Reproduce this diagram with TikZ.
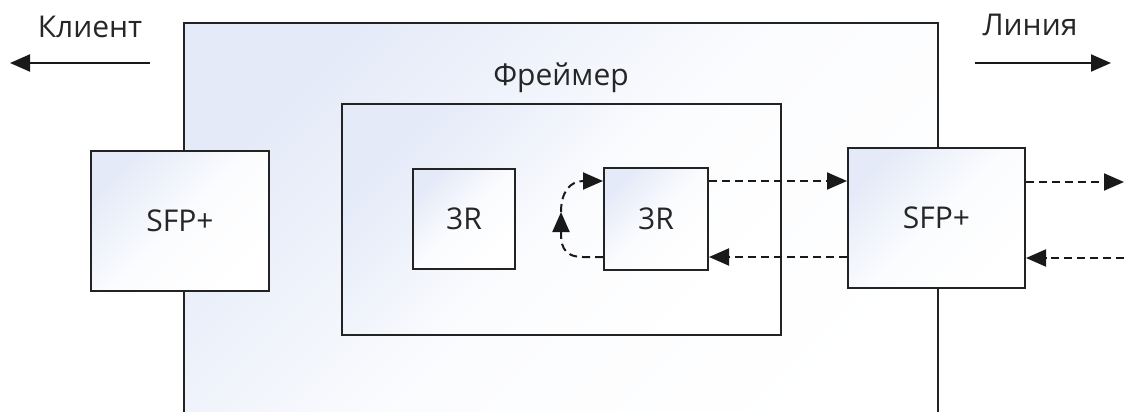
\documentclass[tikz,border=0pt]{standalone}
\usepackage{fontspec}
\setmainfont{Open Sans}
\usetikzlibrary{arrows.meta}
\definecolor{boxtint}{RGB}{228,234,248}
\definecolor{edge}{RGB}{35,35,35}
\tikzset{
  blk/.style={draw=edge, line width=2pt, shade, top color=boxtint, bottom color=white,
    middle color=white!85!boxtint, shading angle=45, inner sep=0pt, anchor=north west},
  lbl/.style={font=\fontsize{30}{34}\selectfont, text=black!85},
  tip/.style={-{Triangle[length=20pt,width=17pt]}},
  dflow/.style={tip, line width=2pt, dash pattern=on 8pt off 5pt, draw=black!90},
  sflow/.style={tip, line width=2pt, draw=black!90}
}
\begin{document}
\begin{tikzpicture}[x=1pt, y=-1pt]
\useasboundingbox (0,0) rectangle (1124,412);

% enclosing board, its lower edge runs past the frame
\node[blk, minimum width=754pt, minimum height=440pt] (board) at (183,22) {};

% framer block
\node[blk, minimum width=439pt, minimum height=231pt] (framer) at (341,103) {};
\node[lbl] (framerlbl) at (561,78) {Фреймер};

% transceivers
\node[blk, minimum width=178pt, minimum height=140pt] (sfpL) at (90,150) {};
\node[lbl] at (sfpL.center) {SFP+};
\node[blk, minimum width=177pt, minimum height=140pt] (sfpR) at (847,147) {};
\node[lbl] at (sfpR.center) {SFP+};

% regenerators
\node[blk, minimum width=102pt, minimum height=100pt] (ra) at (412,168) {};
\node[lbl] at (ra.center) {3R};
\node[blk, minimum width=104pt, minimum height=102pt] (rb) at (603,167) {};
\node[lbl] at (rb.center) {3R};

% direction captions
\node[lbl] (client) at (90,27) {Клиент};
\node[lbl] (line) at (1030,25) {Линия};
\coordinate (cA) at (150,63);
\coordinate (cB) at (10,63);
\coordinate (lA) at (975,63);
\coordinate (lB) at (1111,63);
\draw[sflow] (cA) -- (cB);
\draw[sflow] (lA) -- (lB);

% signal paths
\coordinate (outR) at (1124,182);
\coordinate (inR) at (1124,258);
\coordinate (loopL) at (561,212);
\draw[dflow] (rb.east |- 0,181) -- (sfpR.west |- 0,181);
\draw[dflow] (sfpR.east |- 0,182) -- (outR);
\draw[dflow] (inR) -- (sfpR.east |- 0,258);
\draw[dflow] (sfpR.west |- 0,257) -- (rb.east |- 0,257);

% loopback
\draw[dflow] (rb.west |- 0,257) -- (583,257) .. controls (561,257) and (561,242) .. (loopL);
\draw[dflow] (loopL) .. controls (561,192) and (570,181) .. (rb.west |- 0,181);
\end{tikzpicture}
\end{document}
